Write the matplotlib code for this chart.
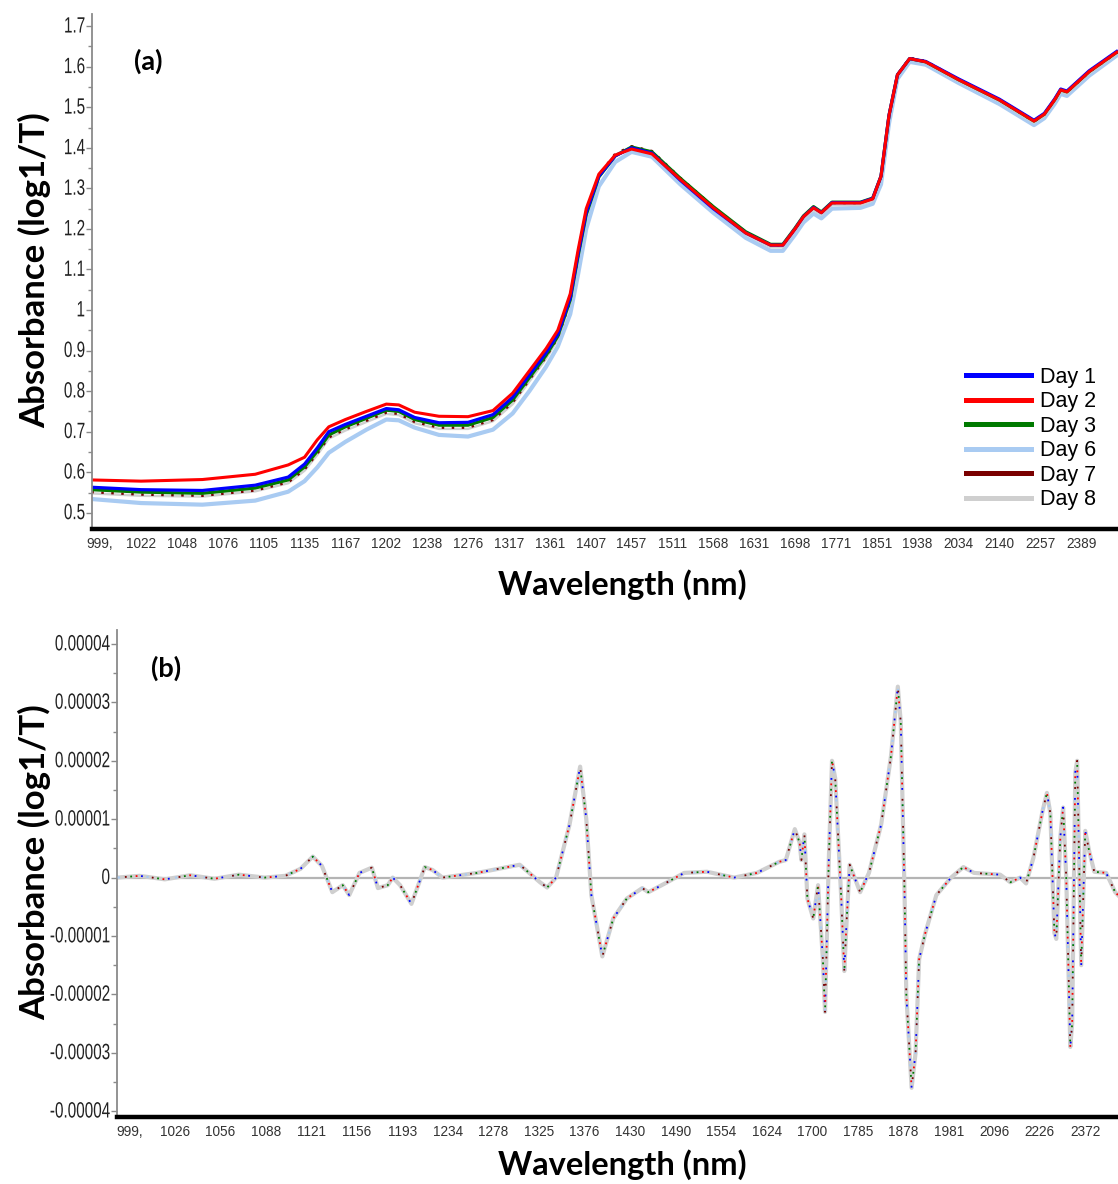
import numpy as np
import matplotlib
matplotlib.use("Agg")
import matplotlib.pyplot as plt
import matplotlib.font_manager as fm
from matplotlib.ticker import FixedLocator, FixedFormatter
from matplotlib.patheffects import AbstractPathEffect
from matplotlib.transforms import Affine2D, offset_copy
from matplotlib.lines import Line2D

# ---------------- data ----------------
days = ["Day 1", "Day 2", "Day 3", "Day 6", "Day 7", "Day 8"]
day_colors = ["#0000ff", "#ff0000", "#007a00", "#a9cbf2", "#7a0000", "#cfcfcf"]

# (a) tick wavelengths shown on the instrument axis (equally spaced samples)
top_tick_wl = [999, 1022, 1048, 1076, 1105, 1135, 1167, 1202, 1238, 1276, 1317, 1361, 1407,
               1457, 1511, 1568, 1631, 1698, 1771, 1851, 1938, 2034, 2140, 2257, 2389]
top_tick_labels = ["999,"] + [str(v) for v in top_tick_wl[1:]]

# (a) raw spectra
raw_wl = [994, 1022, 1062, 1099, 1123, 1135, 1145, 1154, 1167, 1185, 1202, 1213, 1227, 1249,
          1276, 1301, 1321, 1339, 1357, 1370, 1384, 1393, 1402, 1417, 1437, 1457, 1484, 1522,
          1568, 1618, 1658, 1678, 1698, 1713, 1731, 1745, 1764, 1819, 1843, 1860, 1877, 1895,
          1921, 1957, 2034, 2140, 2239, 2270, 2303, 2323, 2343, 2415, 2508]
raw_day1 = [0.563, 0.557, 0.555, 0.568, 0.588, 0.620, 0.660, 0.700, 0.718, 0.738, 0.757, 0.754,
            0.735, 0.722, 0.723, 0.742, 0.785, 0.840, 0.895, 0.940, 1.030, 1.140, 1.240, 1.330,
            1.380, 1.400, 1.387, 1.320, 1.250, 1.190, 1.160, 1.160, 1.200, 1.230, 1.253, 1.240,
            1.265, 1.265, 1.275, 1.330, 1.480, 1.580, 1.620, 1.613, 1.570, 1.520, 1.468, 1.485,
            1.520, 1.545, 1.540, 1.590, 1.640]
raw_day2 = [0.581, 0.578, 0.582, 0.595, 0.618, 0.637, 0.680, 0.712, 0.730, 0.750, 0.768, 0.766,
            0.748, 0.738, 0.737, 0.752, 0.795, 0.850, 0.905, 0.950, 1.040, 1.150, 1.250, 1.335,
            1.382, 1.397, 1.385, 1.322, 1.252, 1.190, 1.160, 1.160, 1.200, 1.230, 1.252, 1.240,
            1.264, 1.264, 1.274, 1.330, 1.480, 1.580, 1.620, 1.612, 1.568, 1.518, 1.466, 1.483,
            1.518, 1.543, 1.538, 1.588, 1.638]
raw_day3 = [0.557, 0.551, 0.548, 0.561, 0.581, 0.613, 0.652, 0.692, 0.712, 0.733, 0.753, 0.750,
            0.730, 0.716, 0.716, 0.735, 0.778, 0.833, 0.888, 0.935, 1.025, 1.135, 1.235, 1.328,
            1.380, 1.402, 1.390, 1.325, 1.255, 1.193, 1.162, 1.162, 1.202, 1.232, 1.255, 1.242,
            1.266, 1.266, 1.276, 1.330, 1.480, 1.580, 1.620, 1.612, 1.568, 1.518, 1.466, 1.483,
            1.518, 1.543, 1.538, 1.588, 1.638]
raw_day6 = [0.534, 0.524, 0.520, 0.530, 0.552, 0.578, 0.612, 0.648, 0.675, 0.705, 0.730, 0.728,
            0.710, 0.692, 0.688, 0.705, 0.745, 0.800, 0.860, 0.910, 0.990, 1.090, 1.200, 1.305,
            1.365, 1.390, 1.378, 1.310, 1.240, 1.178, 1.146, 1.146, 1.186, 1.216, 1.238, 1.226,
            1.250, 1.252, 1.262, 1.310, 1.460, 1.570, 1.612, 1.605, 1.560, 1.508, 1.456, 1.473,
            1.508, 1.533, 1.528, 1.578, 1.630]
raw_day7 = [0.551, 0.545, 0.542, 0.555, 0.575, 0.607, 0.646, 0.686, 0.706, 0.727, 0.747, 0.744,
            0.724, 0.710, 0.710, 0.729, 0.772, 0.828, 0.884, 0.932, 1.022, 1.135, 1.238, 1.333,
            1.385, 1.404, 1.392, 1.326, 1.255, 1.192, 1.160, 1.160, 1.200, 1.230, 1.253, 1.240,
            1.264, 1.264, 1.274, 1.330, 1.480, 1.580, 1.622, 1.614, 1.569, 1.518, 1.465, 1.482,
            1.517, 1.542, 1.537, 1.587, 1.637]
raw_day8 = [0.548, 0.542, 0.540, 0.553, 0.573, 0.604, 0.643, 0.683, 0.703, 0.724, 0.744, 0.741,
            0.721, 0.707, 0.707, 0.726, 0.768, 0.824, 0.880, 0.928, 1.018, 1.130, 1.232, 1.328,
            1.383, 1.402, 1.390, 1.322, 1.250, 1.187, 1.155, 1.155, 1.195, 1.225, 1.247, 1.235,
            1.259, 1.259, 1.270, 1.325, 1.475, 1.577, 1.618, 1.610, 1.565, 1.515, 1.462, 1.479,
            1.514, 1.539, 1.534, 1.584, 1.634]
raw_series = [raw_day1, raw_day2, raw_day3, raw_day6, raw_day7, raw_day8]

top_yticks = [0.5, 0.6, 0.7, 0.8, 0.9, 1.0, 1.1, 1.2, 1.3, 1.4, 1.5, 1.6, 1.7]
top_ytick_labels = ["0.5", "0.6", "0.7", "0.8", "0.9", "1", "1.1", "1.2", "1.3", "1.4", "1.5", "1.6", "1.7"]

# (b) tick wavelengths
bot_tick_wl = [999, 1026, 1056, 1088, 1121, 1156, 1193, 1234, 1278, 1325, 1376, 1430, 1490,
               1554, 1624, 1700, 1785, 1878, 1981, 2096, 2226, 2372]
bot_tick_labels = ["999,"] + [str(v) for v in bot_tick_wl[1:]]

# (b) second-derivative spectra (the six days coincide at this scale), units of 1e-5
deriv_wl = [992, 1005, 1020, 1036, 1052, 1069, 1087, 1102, 1113, 1122, 1129, 1137, 1145, 1150,
            1158, 1168, 1173, 1181, 1185, 1191, 1201, 1213, 1220, 1229, 1262, 1305, 1326, 1334,
            1344, 1359, 1371, 1378, 1384, 1397, 1410, 1426, 1446, 1454, 1476, 1502, 1534, 1574,
            1609, 1645, 1656, 1671, 1679, 1682, 1687, 1692, 1702, 1711, 1720, 1724, 1731, 1737,
            1743, 1754, 1760, 1764, 1770, 1790, 1808, 1833, 1853, 1867, 1873, 1881, 1885, 1897,
            1906, 1914, 1928, 1953, 1987, 2018, 2045, 2113, 2142, 2170, 2187, 2208, 2235, 2249,
            2260, 2273, 2279, 2292, 2301, 2311, 2324, 2330, 2340, 2346, 2359, 2372, 2385, 2401,
            2439, 2468, 2477]
deriv_e5 = [0.0, 0.03, -0.03, 0.04, -0.02, 0.05, 0.0, 0.03, 0.15, 0.36, 0.2, -0.25, -0.13, -0.3,
            0.08, 0.17, -0.18, -0.13, 0.0, -0.13, -0.45, 0.18, 0.13, 0.0, 0.08, 0.22, -0.08, -0.17,
            0.0, 0.9, 1.9, 1.0, -0.3, -1.35, -0.7, -0.36, -0.18, -0.25, -0.1, 0.08, 0.1, 0.0,
            0.08, 0.27, 0.3, 0.83, 0.6, 0.3, 0.74, -0.36, -0.7, -0.13, -1.4, -2.3, 0.3, 2.0,
            1.7, -0.3, -1.6, -0.8, 0.22, -0.25, 0.08, 0.91, 2.08, 3.27, 2.66, -0.25, -2.0, -3.6,
            -3.0, -1.4, -0.95, -0.3, 0.0, 0.18, 0.08, 0.05, -0.08, 0.0, -0.1, 0.34, 1.14, 1.45,
            1.1, -0.95, -1.05, 0.69, 1.2, 0.0, -2.9, -2.5, 1.8, 2.0, -1.5, 0.8, 0.44, 0.1,
            0.08, -0.25, -0.3]

bot_yticks = [-4e-5, -3e-5, -2e-5, -1e-5, 0.0, 1e-5, 2e-5, 3e-5, 4e-5]
bot_ytick_labels = ["-0.00004", "-0.00003", "-0.00002", "-0.00001", "0",
                    "0.00001", "0.00002", "0.00003", "0.00004"]

# ---------------- fonts ----------------
names = {f.name for f in fm.fontManager.ttflist}
def pick(cands):
    for c in cands:
        if c in names:
            return c
    return "DejaVu Sans"
f_bold = pick(["Lato", "Open Sans", "DejaVu Sans"])
f_arial = pick(["Liberation Sans", "DejaVu Sans"])


class Stretch(AbstractPathEffect):
    """Stretch text vertically about its centre, keeping its right edge (narrow tick font look)."""
    def __init__(self, sy):
        super().__init__()
        self.sy = sy

    def draw_path(self, renderer, gc, tpath, affine, rgbFace=None):
        ext = tpath.get_extents()
        yc = 0.5 * (ext.y0 + ext.y1)
        aff = Affine2D().translate(0, -yc).scale(1, self.sy).translate(0, yc) + affine
        renderer.draw_path(gc, tpath, aff, rgbFace)


# ---------------- scale (instrument axis: equally spaced samples) ----------------
def make_scale(wl):
    wl = np.asarray(wl, float)
    pos = np.arange(len(wl), dtype=float)
    def fwd(w):
        w = np.asarray(w, float)
        out = np.interp(w, wl, pos)
        out = np.where(w < wl[0], (w - wl[0]) / (wl[1] - wl[0]), out)
        out = np.where(w > wl[-1], pos[-1] + (w - wl[-1]) / (wl[-1] - wl[-2]), out)
        return out
    def inv(p):
        p = np.asarray(p, float)
        out = np.interp(p, pos, wl)
        out = np.where(p < 0, wl[0] + p * (wl[1] - wl[0]), out)
        out = np.where(p > pos[-1], wl[-1] + (p - pos[-1]) * (wl[-1] - wl[-2]), out)
        return out
    return fwd, inv

W, H = 1118, 1184
fig = plt.figure(figsize=(W / 100, H / 100), dpi=100)


def style_axes(ax, yticks, ylabels, minor):
    for s in ("top", "right"):
        ax.spines[s].set_visible(False)
    ax.spines["left"].set_color("#8a8a8a")
    ax.spines["left"].set_linewidth(1.3)
    ax.spines["bottom"].set_color("#000000")
    ax.spines["bottom"].set_linewidth(3.2)
    ax.tick_params(axis="x", length=0, pad=6, labelsize=9.8, labelcolor="#333333")
    for lab in ax.get_xticklabels():
        lab.set_fontfamily(f_arial)
    ax.yaxis.set_major_locator(FixedLocator(yticks))
    ax.yaxis.set_minor_locator(FixedLocator(minor))
    ax.tick_params(axis="y", which="major", length=4, color="#8a8a8a", width=1.0, labelleft=False)
    ax.tick_params(axis="y", which="minor", length=3, color="#8a8a8a", width=1.0)
    tr = offset_copy(ax.get_yaxis_transform(), fig=fig, x=-7, y=0, units="dots")
    for v, s in zip(yticks, ylabels):
        ax.text(0, v, s, transform=tr, ha="right", va="center", fontsize=11,
                family=f_arial, color="#222222", clip_on=False,
                path_effects=[Stretch(1.45)])


# ---------------- (a) ----------------
ax1 = fig.add_axes([92 / W, 1 - 529 / H, 1 - 92 / W, (529 - 14) / H])
fwd1, inv1 = make_scale(top_tick_wl)
ax1.set_xscale("function", functions=(fwd1, inv1))
order = [3, 5, 4, 2, 0, 1]
styles = {0: dict(lw=2.3), 1: dict(lw=2.2), 2: dict(lw=2.3), 3: dict(lw=3.0),
          4: dict(lw=1.8, ls=(0, (1, 3))), 5: dict(lw=1.8)}
for i in order:
    ax1.plot(raw_wl, raw_series[i], color=day_colors[i], solid_capstyle="butt", **styles[i])
ax1.set_xlim(994.4, 2508)
ax1.set_ylim(0.46, 1.73)
ax1.xaxis.set_major_locator(FixedLocator(top_tick_wl))
ax1.xaxis.set_major_formatter(FixedFormatter(top_tick_labels))
ax1.xaxis.set_minor_locator(FixedLocator([]))
style_axes(ax1, top_yticks, top_ytick_labels, [v + 0.05 for v in top_yticks[:-1]])

leg_handles = [Line2D([], [], color=day_colors[i], lw=3.6) for i in range(6)]
fig.legend(leg_handles, days, loc="upper left",
           bbox_to_anchor=(966 / W, 1 - 367 / H), frameon=False,
           prop={"family": f_arial, "size": 15.5}, handlelength=3.0,
           handletextpad=0.45, labelspacing=0.16, borderpad=0, borderaxespad=0)

# ---------------- (b) ----------------
ax2 = fig.add_axes([117 / W, 1 - 1117 / H, 1 - 117 / W, (1117 - 630) / H])
fwd2, inv2 = make_scale(bot_tick_wl)
ax2.set_xscale("function", functions=(fwd2, inv2))
ax2.axhline(0, color="#b4b4b4", lw=1.6, zorder=1)
deriv = np.asarray(deriv_e5) * 1e-5
ax2.plot(deriv_wl, deriv, color=day_colors[5], lw=3.0, zorder=2)
ax2.plot(deriv_wl, deriv, color=day_colors[3], lw=1.6, ls=(0, (1, 12)), zorder=3)
for k, i in enumerate([0, 1, 2, 4]):
    ax2.plot(deriv_wl, deriv, color=day_colors[i], lw=1.3, ls=(3 * k + 2, (1, 14)), zorder=4)
ax2.set_xlim(991.6, 2477)
ax2.set_ylim(-4.1e-5, 4.24e-5)
ax2.xaxis.set_major_locator(FixedLocator(bot_tick_wl))
ax2.xaxis.set_major_formatter(FixedFormatter(bot_tick_labels))
ax2.xaxis.set_minor_locator(FixedLocator([]))
style_axes(ax2, bot_yticks, bot_ytick_labels, [v + 0.5e-5 for v in bot_yticks[:-1]])

# ---------------- texts ----------------
bold = dict(family=f_bold, weight="bold", color="black")
fig.text(35 / W, 1 - 270 / H, "Absorbance (log1/T)", rotation=90, ha="center", va="center",
         fontsize=25, **bold)
fig.text(35 / W, 1 - 862 / H, "Absorbance (log1/T)", rotation=90, ha="center", va="center",
         fontsize=25, **bold)
fig.text(622 / W, 1 - 585 / H, "Wavelength (nm)", ha="center", va="center", fontsize=23.5, **bold)
fig.text(622 / W, 1 - 1165 / H, "Wavelength (nm)", ha="center", va="center", fontsize=23.5, **bold)
fig.text(148 / W, 1 - 61 / H, "(a)", ha="center", va="center", fontsize=19.5, **bold)
fig.text(166 / W, 1 - 668 / H, "(b)", ha="center", va="center", fontsize=19.5, **bold)

fig.savefig("out.png", dpi=100)
